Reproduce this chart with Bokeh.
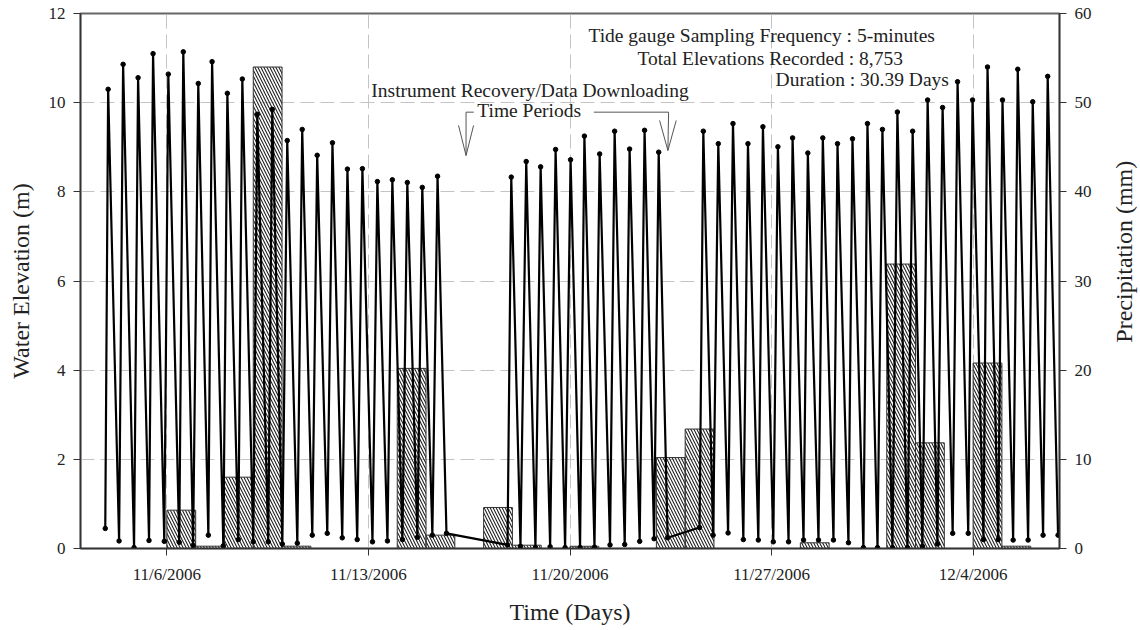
import math
from bokeh.plotting import figure
from bokeh.layouts import row
from bokeh.models import Range1d, LinearAxis, FixedTicker, Label, Arrow
from bokeh.core.properties import value
from bokeh.embed import file_html
from bokeh.resources import INLINE

# ---- data (x = day of November 2006; 31 = 12/1/2006) ----
# tide gauge: high-water peaks
peak_days = [3.96, 4.48, 5.00, 5.52, 6.05, 6.57, 7.09, 7.57, 8.10, 8.62, 9.14, 9.66,
             10.18, 10.70, 11.22, 11.75, 12.27, 12.79, 13.31, 13.83, 14.35, 14.87, 15.40,
             17.96, 18.48, 18.98, 19.50, 20.02, 20.50, 21.03, 21.55, 22.07, 22.59, 23.08,
             24.63, 25.15, 25.66, 26.18, 26.70, 27.22, 27.73, 28.26, 28.78, 29.29, 29.81,
             30.33, 30.85, 31.37, 31.90, 32.42, 32.94, 33.46, 33.98, 34.50, 35.02, 35.55,
             36.07, 36.59]
peak_elev = [10.30, 10.86, 10.56, 11.10, 10.64, 11.14, 10.43, 10.92, 10.21, 10.53, 9.74, 9.85,
             9.15, 9.40, 8.82, 9.10, 8.51, 8.52, 8.23, 8.27, 8.21, 8.10, 8.35,
             8.33, 8.68, 8.56, 8.95, 8.72, 9.25, 8.85, 9.36, 8.96, 9.38, 8.89,
             9.36, 9.08, 9.53, 9.08, 9.46, 9.01, 9.21, 8.87, 9.21, 9.08, 9.19,
             9.53, 9.40, 9.79, 9.36, 10.06, 9.89, 10.47, 10.06, 10.80, 10.06, 10.75,
             10.02, 10.59]
# tide gauge: low-water troughs
trough_days = [4.34, 4.86, 5.38, 5.91, 6.43, 6.91, 7.44, 7.96, 8.48, 9.00, 9.52, 10.01,
               10.53, 11.05, 11.57, 12.09, 12.61, 13.14, 13.66, 14.18, 14.70, 15.22, 15.71,
               18.28, 18.80, 19.31, 19.83, 20.35, 20.85, 21.39, 21.90, 22.42, 22.92, 23.39,
               24.97, 25.49, 26.02, 26.54, 27.06, 27.59, 28.11, 28.63, 29.15, 29.67, 30.19,
               30.68, 31.20, 31.72, 32.24, 32.76, 33.29, 33.83, 34.36, 34.87, 35.39, 35.91,
               36.43, 36.95]
trough_elev = [0.17, 0.02, 0.18, 0.16, 0.14, 0.07, 0.30, 0.06, 0.20, 0.15, 0.15, 0.10,
               0.12, 0.30, 0.34, 0.24, 0.20, 0.15, 0.17, 0.20, 0.25, 0.30, 0.34,
               0.05, 0.02, 0.04, 0.02, 0.02, 0.03, 0.08, 0.09, 0.16, 0.22, 0.24,
               0.30, 0.35, 0.20, 0.19, 0.15, 0.15, 0.19, 0.19, 0.19, 0.13, 0.02,
               0.02, 0.02, 0.02, 0.05, 0.10, 0.34, 0.34, 0.20, 0.20, 0.19, 0.19,
               0.30, 0.30]
# first record and the records that resume after each recovery period
edge_days = [3.86, 17.83, 24.50]
edge_elev = [0.45, 0.08, 0.47]

# daily precipitation (mm)
precip_day = [5, 6, 7, 8, 9, 10, 13, 14, 15, 16, 17, 18, 19, 20, 21, 23, 24, 28, 30,
              31, 32, 33, 34, 35, 36]
precip_mm = [0, 4.3, 0.26, 8.0, 54.0, 0.26, 0, 20.2, 1.5, 0, 4.6, 0.37, 0, 0.25, 0,
             10.2, 13.4, 0.64, 0, 31.9, 11.85, 0, 20.8, 0.26, 0]

tick_days = [6, 13, 20, 27, 34]
tick_labels = ["11/6/2006", "11/13/2006", "11/20/2006", "11/27/2006", "12/4/2006"]
elev_ticks = [0, 2, 4, 6, 8, 10, 12]
precip_ticks = [0, 10, 20, 30, 40, 50, 60]

# merge extrema in time order
pts = sorted(zip(peak_days + trough_days + edge_days, peak_elev + trough_elev + edge_elev))
tide_days = [a for a, b in pts]
tide_elev = [b for a, b in pts]

FONT = "Liberation Serif"

p = figure(width=1100, height=630, output_backend="svg", toolbar_location=None,
           x_range=Range1d(3, 37), y_range=Range1d(0, 12),
           min_border_left=80, min_border_right=41, min_border_top=13, min_border_bottom=82)
p.extra_y_ranges = {"precip": Range1d(0, 60)}
p.background_fill_color = "white"
p.border_fill_color = "white"
p.outline_line_color = "#666666"
p.outline_line_width = 2

# precipitation bars
p.quad(left=precip_day, right=[d + 1 for d in precip_day], bottom=0, top=precip_mm,
       y_range_name="precip", fill_alpha=0, line_color="#333333", line_width=1,
       hatch_pattern="\\", hatch_color="#222222", hatch_scale=6, hatch_weight=1.1)

# tide elevations
p.line(tide_days, tide_elev, line_color="black", line_width=2.2)
p.scatter(tide_days, tide_elev, size=4.5, color="black")

# axes
xa = p.xaxis[0]
xa.ticker = FixedTicker(ticks=tick_days)
xa.major_label_overrides = dict(zip(tick_days, tick_labels))
xa.axis_label = "Time (Days)"
ya = p.yaxis[0]
ya.ticker = FixedTicker(ticks=elev_ticks)
ya.axis_label = "Water Elevation (m)"

ra = LinearAxis(y_range_name="precip", ticker=FixedTicker(ticks=precip_ticks))
p.add_layout(ra, "right")

for ax in (xa, ya, ra):
    ax.major_tick_out = 7
    ax.major_tick_in = 0
    ax.minor_tick_line_color = None
    ax.axis_line_color = "#333333"
    ax.axis_line_width = 1.5
    ax.major_tick_line_color = "#333333"
    ax.major_label_text_font = FONT
    ax.major_label_text_font_size = "17px"
    ax.major_label_text_color = "#222222"
    ax.axis_label_text_font = FONT
    ax.axis_label_text_font_size = "24px"
    ax.axis_label_text_font_style = "normal"
    ax.axis_label_text_color = "#222222"
ya.major_label_standoff = 8
ya.axis_label_standoff = 12
ra.major_label_standoff = 8
xa.major_label_standoff = 9
xa.axis_label_standoff = 12

# grid
p.xgrid.ticker = FixedTicker(ticks=tick_days)
p.ygrid.ticker = FixedTicker(ticks=elev_ticks)
for g in (p.xgrid, p.ygrid):
    g.grid_line_color = "#c4c4c4"
    g.grid_line_dash = "14 6"
    g.grid_line_width = 1

# annotations
def lab(x, y, t):
    p.add_layout(Label(x=x, y=y, text=t, text_font=FONT, text_font_size="19.5px",
                       text_color="#222222", text_align="left", text_baseline="alphabetic"))

lab(20.64, 11.50, "Tide gauge Sampling Frequency : 5-minutes")
lab(22.34, 11.00, "Total Elevations Recorded : 8,753")
lab(27.14, 10.53, "Duration : 30.39 Days")
lab(13.10, 10.27, "Instrument Recovery/Data Downloading")
lab(16.78, 9.82, "Time Periods")

def seg(x0, y0, x1, y1):
    p.add_layout(Arrow(x_start=x0, y_start=y0, x_end=x1, y_end=y1, end=None, start=None,
                       line_color="#555555", line_width=1))

# left arrow
seg(16.657, 9.787, 16.39, 9.787)
seg(16.39, 9.787, 16.39, 8.816)
seg(16.39 - 0.261, 9.489, 16.39, 8.816)
seg(16.39 + 0.261, 9.489, 16.39, 8.816)
# right arrow
seg(20.828, 9.787, 23.424, 9.787)
seg(23.424, 9.787, 23.40, 8.928)
seg(23.40 - 0.289, 9.601, 23.40, 8.928)
seg(23.40 + 0.289, 9.601, 23.40, 8.928)

# right-hand title strip (reads bottom-to-top like the left title)
t = figure(width=40, height=630, output_backend="svg", toolbar_location=None,
           x_range=Range1d(0, 40), y_range=Range1d(0, 630),
           x_axis_location=None, y_axis_location=None,
           min_border_left=0, min_border_right=0, min_border_top=0, min_border_bottom=0)
t.outline_line_color = None
t.background_fill_color = "white"
t.border_fill_color = "white"
t.xgrid.visible = False
t.ygrid.visible = False
t.text(x=[23], y=[349.5], text=["Precipitation (mm)"], angle=math.pi / 2,
       text_font=value(FONT), text_font_size="24px", text_color="#222222",
       text_align="center", text_baseline="middle")

layout = row(p, t, spacing=0)
open("out.html", "w").write(file_html(layout, INLINE))
